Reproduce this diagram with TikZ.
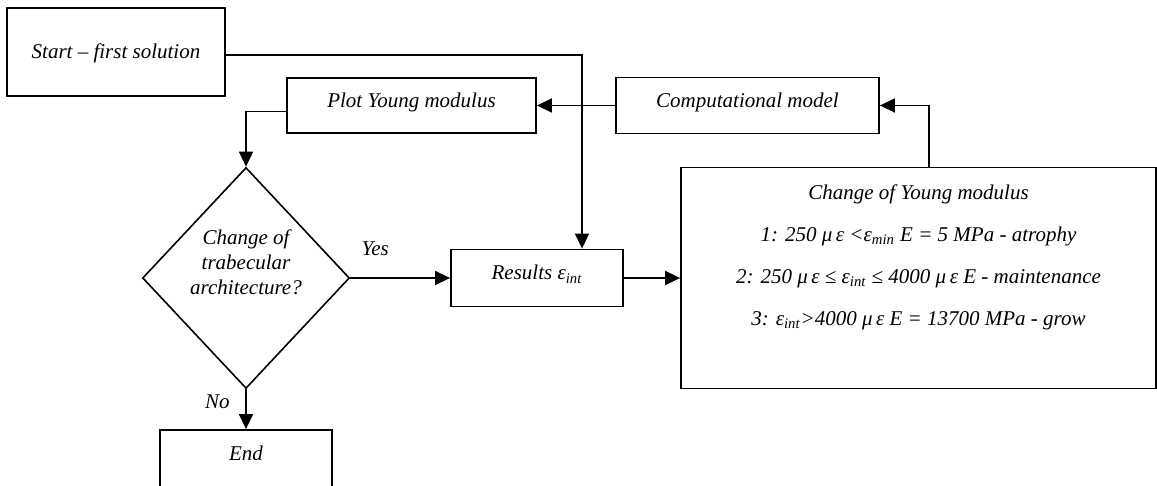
\documentclass[tikz,border=0pt]{standalone}
\usepackage{fontspec}
\setmainfont{Liberation Serif}
\usetikzlibrary{shapes.geometric, arrows.meta, positioning, calc}

\begin{document}
\begin{tikzpicture}[
    x=0.5pt, y=-0.5pt,
    font=\fontsize{10.5}{12.6}\selectfont\itshape,
    process/.style={rectangle, draw=black, line width=0.9pt, text centered, inner sep=0pt, text height=7.5pt, text depth=5.5pt},
    decision/.style={diamond, draw=black, line width=0.8pt, inner sep=0pt, minimum width=103.5pt, minimum height=110.5pt},
    arrow/.style={line width=0.8pt, -{Triangle[length=7.5pt, width=7pt]}}
]

    \useasboundingbox (0,0) rectangle (1157,486);

    \node[process, minimum width=109pt, minimum height=44pt, text depth=0.5pt] (start) at (116,52) {Start -- first solution};
    \node[process, minimum width=124.5pt, minimum height=27.5pt] (plot) at (411.5,105.5) {Plot Young modulus};
    \node[process, minimum width=131.5pt, minimum height=28pt] (comp) at (747.5,105.5) {Computational model};
    \node[decision, label={[align=center, yshift=8pt]center:Change of\\trabecular\\architecture?}] (decide) at (246,278) {};
    \node[process, minimum width=86pt, minimum height=28.5pt] (results) at (537,278) {Results ε\textsubscript{int}};
    \node[process, minimum width=237.5pt, minimum height=110.5pt,
          label={[anchor=north, align=center, yshift=-5.3pt]north:Change of Young modulus\\[8.4pt]
            1: 250 μ\,ε <ε\textsubscript{min} E = 5 MPa - atrophy\\[8.4pt]
            2: 250 μ\,ε ≤ ε\textsubscript{int} ≤ 4000 μ\,ε E - maintenance\\[8.4pt]
            3: ε\textsubscript{int}>4000 μ\,ε E = 13700 MPa - grow}] (change) at (918.5,278) {};
    \node[process, minimum width=86pt, minimum height=28.5pt] (stop) at (246,458.5) {End};

    \draw[arrow] ([yshift=-1.5pt]start.east) -| ([xshift=22.5pt]results.north);
    \draw[arrow] (comp.west) -- (plot.east);
    \draw[arrow] ([yshift=-3pt]plot.west) -| (decide.north);
    \draw[arrow] (decide.east) -- node[above=7.5pt, pos=0.25] {Yes} (results.west);
    \draw[arrow] (results.east) -- (change.west);
    \draw[arrow] ([xshift=5.25pt]change.north) |- (comp.east);
    \draw[arrow] (decide.south) -- node[left=4.5pt, pos=0.31] {No} (stop.north);

\end{tikzpicture}
\end{document}
